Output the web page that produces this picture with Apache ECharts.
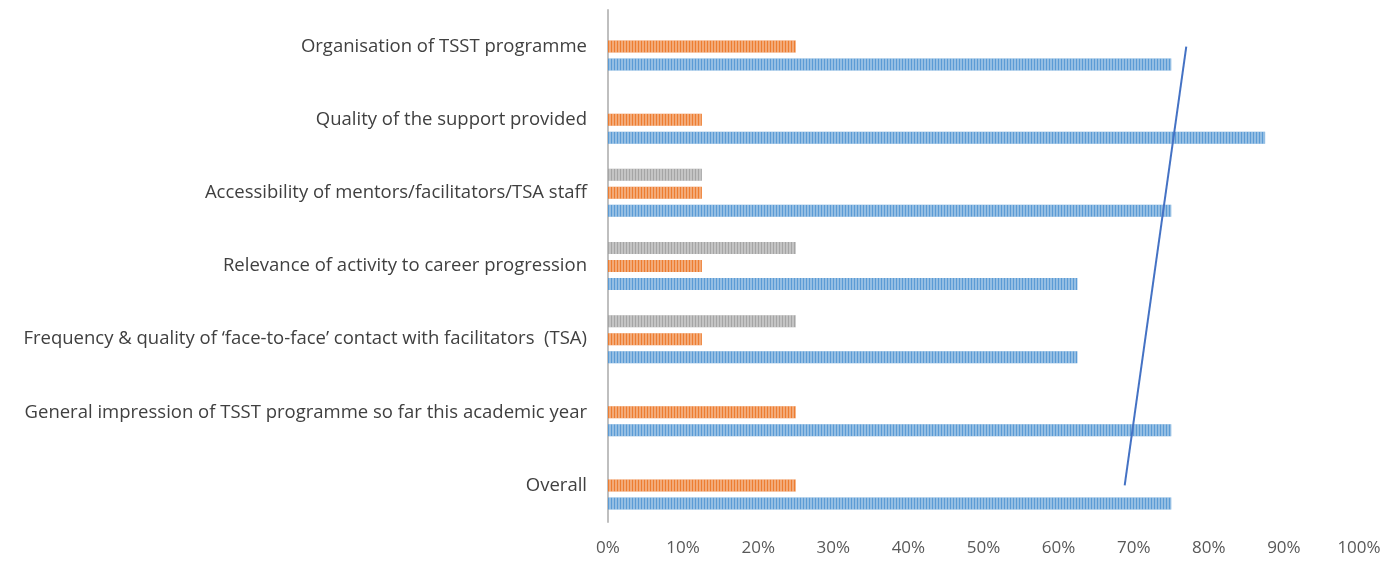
<!DOCTYPE html>
<html>
<head>
    <meta charset="utf-8">
    <title>TSST feedback</title>
    <script src="https://cdn.jsdelivr.net/npm/echarts@6/dist/echarts.min.js"></script>
    <style>
        html, body { margin: 0; padding: 0; background: #fff; }
        #chart { width: 1399px; height: 561px; }
    </style>
</head>
<body>
    <div id="chart"></div>
    <script>
        // categories, bottom to top
        var categories = [
            'Overall',
            'General impression of TSST programme so far this academic year',
            'Frequency & quality of \u2018face-to-face\u2019 contact with facilitators  (TSA)',
            'Relevance of activity to career progression',
            'Accessibility of mentors/facilitators/TSA staff',
            'Quality of the support provided',
            'Organisation of TSST programme'
        ];
        var blueValues = [75, 75, 62.5, 62.5, 75, 87.5, 75];
        var orangeValues = [25, 25, 12.5, 12.5, 12.5, 12.5, 25];
        var greyValues = [0, 0, 25, 25, 12.5, 0, 0];
        var tickLabels = ['0%', '10%', '20%', '30%', '40%', '50%', '60%', '70%', '80%', '90%', '100%'];
        // hand drawn line: [percent, category index]
        var linePoints = [[68.8, 0], [77, 6]];

        var stripes = {
            symbol: 'rect',
            symbolSize: 1,
            dashArrayX: [2, 1],
            dashArrayY: [4, 0],
            color: 'rgba(255,255,255,0.35)'
        };

        function barSeries(name, color, data) {
            return {
                name: name,
                type: 'bar',
                data: data,
                barWidth: 12,
                barGap: '50%',
                itemStyle: { color: color, decal: stripes },
                silent: true
            };
        }

        var myChart = echarts.init(document.getElementById('chart'));
        var option = {
            animation: false,
            textStyle: { fontFamily: 'Open Sans' },
            grid: { left: 608, right: 40, top: 10, bottom: 39 },
            xAxis: {
                type: 'value',
                min: 0,
                max: 100,
                interval: 10,
                axisLine: { show: false },
                axisTick: { show: false },
                splitLine: { show: false },
                axisLabel: {
                    formatter: function (v) { return tickLabels[Math.round(v / 10)]; },
                    color: '#595959',
                    fontSize: 17,
                    margin: 18
                }
            },
            yAxis: {
                type: 'category',
                data: categories,
                axisLine: { show: true, lineStyle: { color: '#bfbfbf', width: 2 } },
                axisTick: { show: false },
                axisLabel: {
                    color: '#404040',
                    fontSize: 18.5,
                    margin: 21
                }
            },
            series: [
                // series order: first is drawn at the top of each band
                barSeries('Series 3', '#a5a5a5', greyValues),
                barSeries('Series 2', '#ed7d31', orangeValues),
                barSeries('Series 1', '#5b9bd5', blueValues),
                {
                    type: 'line',
                    data: linePoints,
                    symbol: 'none',
                    lineStyle: { color: '#4472c4', width: 2 },
                    silent: true
                }
            ]
        };
        myChart.setOption(option);
    </script>
</body>
</html>
